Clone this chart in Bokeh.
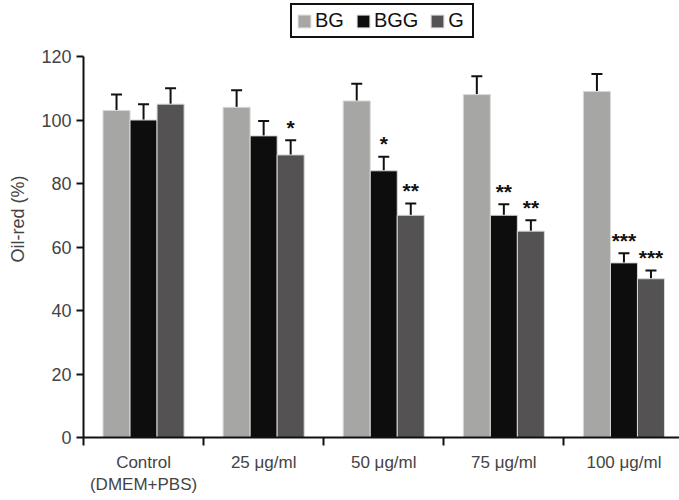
from bokeh.plotting import figure
from bokeh.models import ColumnDataSource, Whisker, TeeHead, FixedTicker, Range1d
from bokeh.core.properties import value
from bokeh.embed import file_html
from bokeh.resources import INLINE

categories = ["Control\n(DMEM+PBS)", "25 μg/ml", "50 μg/ml", "75 μg/ml", "100 μg/ml"]
series = ["BG", "BGG", "G"]
bg = [103, 104, 106, 108, 109]
bgg = [100, 95, 84, 70, 55]
g = [105, 89, 70, 65, 50]
bg_err = [5.0, 5.4, 5.4, 5.8, 5.5]
bgg_err = [5.0, 4.7, 4.4, 3.5, 3.0]
g_err = [5.0, 4.6, 3.7, 3.4, 2.6]
bg_sig = ["", "", "", "", ""]
bgg_sig = ["", "", "*", "**", "***"]
g_sig = ["", "*", "**", "**", "***"]
yticks = [0, 20, 40, 60, 80, 100, 120]

colors = ["#a6a6a4", "#0d0d0d", "#545252"]
offsets = [-0.225, 0.0, 0.225]
FONT = "Liberation Sans"

# frame spans 437 px; 120 units span 381 px, leaving room above for the legend
p = figure(width=679, height=500, output_backend="svg", toolbar_location=None,
           x_range=Range1d(0, 4.9625), y_range=Range1d(0, 120 * 437 / 381),
           min_border_left=83, min_border_right=0, min_border_top=0, min_border_bottom=63)
p.outline_line_color = None
p.xgrid.visible = False
p.ygrid.visible = False
p.background_fill_color = "white"

data = [(bg, bg_err, bg_sig), (bgg, bgg_err, bgg_sig), (g, g_err, g_sig)]
for (vals, errs, sigs), name, col, off in zip(data, series, colors, offsets):
    xs = [i + 0.5 + off for i in range(len(categories))]
    src = ColumnDataSource(dict(x=xs, top=vals, upper=[v + e for v, e in zip(vals, errs)],
                                lower=vals, sig=sigs))
    p.vbar(x="x", top="top", width=0.225, source=src, fill_color=col,
           line_color="#d8d8d8", line_width=1, legend_label=name)
    w = Whisker(base="x", upper="upper", lower="lower", source=src,
                upper_head=TeeHead(size=11, line_width=2, line_color="#111111"),
                lower_head=None, line_width=2, line_color="#111111")
    p.add_layout(w)
    p.text(x="x", y="upper", text="sig", source=src, text_align="center",
           text_baseline="alphabetic", y_offset=-13, text_font=value(FONT),
           text_font_size="21px", text_font_style="bold", text_color="#111111")

# y axis
ya = p.yaxis[0]
ya.ticker = FixedTicker(ticks=yticks)
ya.bounds = (0, 120)
ya.axis_label = "Oil-red (%)"
ya.axis_label_text_font = FONT
ya.axis_label_text_font_size = "18px"
ya.axis_label_text_font_style = "normal"
ya.axis_label_standoff = 10
ya.major_label_text_font = FONT
ya.major_label_text_font_size = "18px"
ya.major_label_standoff = 5
ya.major_tick_out = 7
ya.major_tick_in = 0
ya.minor_tick_out = 0
ya.minor_tick_in = 0
ya.axis_line_width = 2
ya.major_tick_line_width = 2
ya.axis_line_color = "#111111"
ya.major_tick_line_color = "#111111"

# x axis
xa = p.xaxis[0]
centers = [i + 0.5 for i in range(len(categories))]
xa.ticker = FixedTicker(ticks=centers, minor_ticks=list(range(len(categories) + 1)))
xa.major_label_overrides = {c: lab for c, lab in zip(centers, categories)}
xa.major_label_text_font = FONT
xa.major_label_text_font_size = "17px"
xa.major_label_standoff = 7
xa.major_tick_out = 0
xa.major_tick_in = 0
xa.minor_tick_out = 8
xa.minor_tick_in = 0
xa.minor_tick_line_width = 2
xa.minor_tick_line_color = "#111111"
xa.axis_line_width = 2
xa.axis_line_color = "#111111"

lg = p.legend[0]
lg.orientation = "horizontal"
lg.location = (207, 399)
lg.label_text_font = FONT
lg.label_text_font_size = "20px"
lg.label_text_color = "#111111"
lg.glyph_width = 16
lg.glyph_height = 16
lg.label_standoff = 3
lg.spacing = 11
lg.padding = 4
lg.margin = 0
lg.label_height = 18
lg.border_line_color = "#111111"
lg.border_line_alpha = 1.0
lg.border_line_width = 2
lg.background_fill_alpha = 1.0

open("out.html", "w").write(file_html(p, INLINE))
